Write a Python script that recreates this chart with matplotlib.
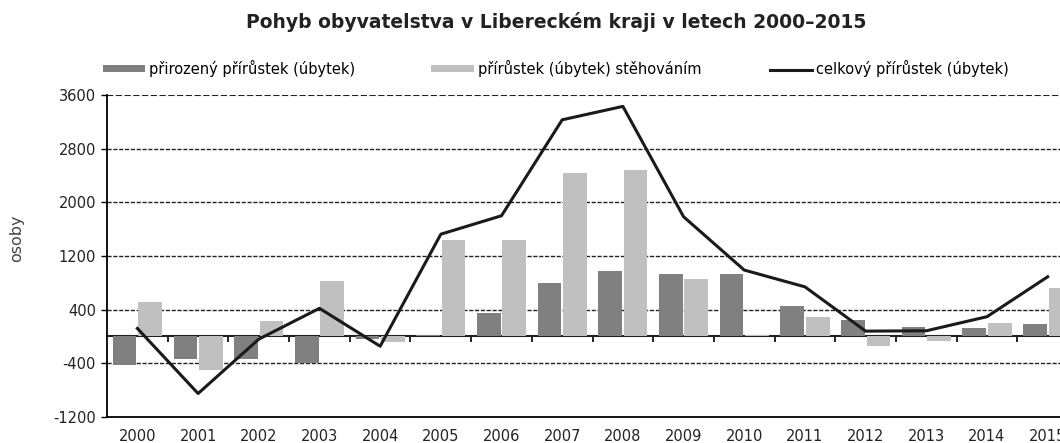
import matplotlib
matplotlib.use("Agg")
import matplotlib.pyplot as plt
import numpy as np

plt.rcParams['font.family'] = ['DejaVu Sans']

years = [str(y) for y in range(2000, 2016)]
natural = [-420, -330, -330, -390, -30, 20, 345, 800, 975, 930, 925, 455, 245, 145, 120, 180]
migration = [520, -500, 235, 830, -80, 1440, 1440, 2440, 2480, 850, 25, 285, -140, -60, 195, 725]
total = [120, -850, -40, 420, -145, 1525, 1800, 3230, 3430, 1785, 990, 740, 80, 85, 295, 890]
yticks = [-1200, -400, 400, 1200, 2000, 2800, 3600]

title = "Pohyb obyvatelstva v Libereckém kraji v letech 2000–2015"
lab_nat = "přirozený přírůstek (úbytek)"
lab_mig = "přírůstek (úbytek) stěhováním"
lab_tot = "celkový přírůstek (úbytek)"

dark = "#808080"
light = "#c0c0c0"

fig = plt.figure(figsize=(10.6, 4.43), dpi=100)
ax = fig.add_axes([0.101, 0.0587, 0.916, 0.7269])

x = np.arange(len(years))
w = 0.39
b1 = ax.bar(x - 0.21, natural, width=w, color=dark, zorder=2)
b2 = ax.bar(x + 0.21, migration, width=w, color=light, zorder=2)
ln, = ax.plot(x, total, color="#1a1a1a", lw=2.2, zorder=4)

ax.set_xlim(-0.5, len(years) - 0.5)
ax.set_ylim(-1200, 3600)
ax.set_yticks(yticks)
ax.set_yticklabels([str(v) for v in yticks], fontsize=10.5, color="#222222")
for v in yticks[1:]:
    ax.axhline(v, color="#222222", lw=1.5 if v == 3600 else 1.0,
               dashes=(3, 1.2), zorder=1)

ax.set_xticks(x)
ax.set_xticklabels(years, fontsize=10.5, color="#222222")
ax.tick_params(axis='x', length=0, pad=9)
ax.tick_params(axis='y', length=4, width=1, direction='out', pad=4)

for s in ['top', 'right']:
    ax.spines[s].set_visible(False)
ax.spines['left'].set_linewidth(1.3)
ax.spines['bottom'].set_linewidth(1.3)

# zero (category) axis with boundary ticks
frac0 = (0 - (-1200)) / (3600 - (-1200))
sec = ax.secondary_xaxis(frac0)
sec.set_xticks(np.arange(len(years) - 1) + 0.5)
sec.set_xticklabels([])
sec.tick_params(axis='x', direction='out', length=4, width=1.2)
sec.spines['bottom'].set_linewidth(1.5)
sec.spines['bottom'].set_color("#222222")

fig.text(0.016, 0.462, "osoby", rotation=90, ha='center', va='center',
         fontsize=11.5, color="#444444")

fig.text(0.525, 0.95, title, ha='center', va='center', fontsize=13.5,
         fontweight='bold', color="#222222")

leg_kw = dict(frameon=False, fontsize=10.5, handlelength=2.9, handleheight=0.35,
              handletextpad=0.3, borderpad=0, borderaxespad=0, loc='center left')
fig.legend([b1], [lab_nat], bbox_to_anchor=(0.097, 0.845), **leg_kw)
fig.legend([b2], [lab_mig], bbox_to_anchor=(0.407, 0.845), **leg_kw)
fig.legend([ln], [lab_tot], bbox_to_anchor=(0.726, 0.845), **leg_kw)

fig.savefig("out.png", dpi=100)
